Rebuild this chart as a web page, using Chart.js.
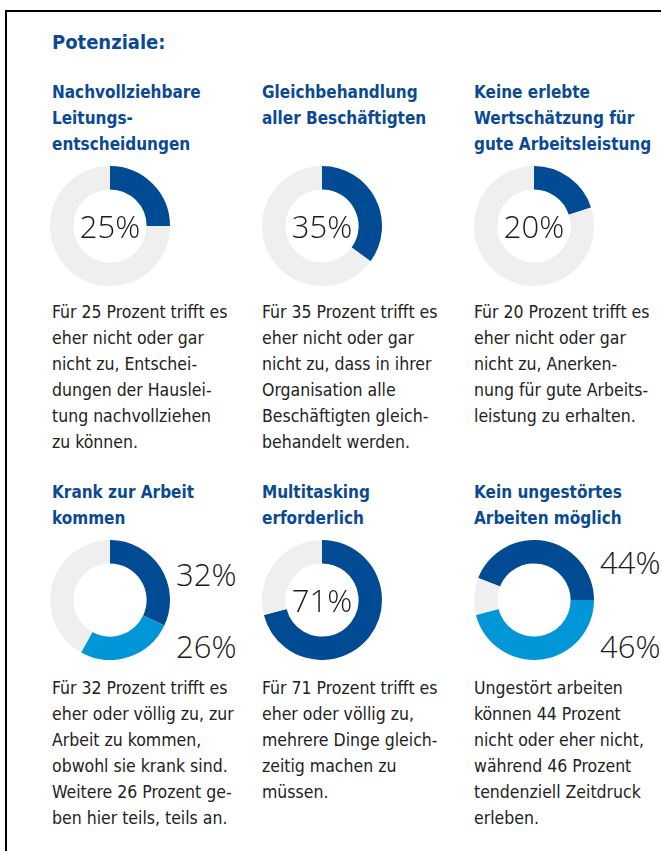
<!DOCTYPE html>
<html lang="de">
<head>
<meta charset="utf-8">
<script src="https://cdn.jsdelivr.net/npm/chart.js@4.4.1/dist/chart.umd.min.js"></script>
<style>
  html, body { margin: 0; padding: 0; background: #fff; }
  body { width: 661px; height: 851px; position: relative; overflow: hidden; }
  .frame {
    position: absolute; left: 5px; top: 10px; width: 700px; height: 900px;
    border-left: 2px solid #000; border-top: 2px solid #000;
  }
  .head, .title, .desc, .pct, .side { position: absolute; margin: 0; white-space: nowrap; }
  .head {
    left: 52px; top: 30px; line-height: 26px;
    font: bold 20px "DejaVu Sans Condensed", sans-serif;
    color: #0b4a93;
  }
  .title {
    font: bold 17px "DejaVu Sans Condensed", sans-serif;
    line-height: 26px; color: #0b4a93;
  }
  .desc {
    font: 17.5px "DejaVu Sans Condensed", sans-serif;
    line-height: 26px; color: #222;
  }
  .donut { position: absolute; width: 120px; height: 120px; }
  .donut canvas { position: absolute; left: 0; top: 0; }
  .pct {
    left: 0; top: 0; width: 120px; height: 120px;
    display: flex; align-items: center; justify-content: center;
  }
  .pct, .side {
    font: 300 31px "Open Sans", sans-serif; color: #1a1a1a;
  }
  .side { height: 40px; line-height: 40px; }
</style>
</head>
<body>
<div class="frame"></div>
<div class="head">Potenziale:</div>
<div id="panels"></div>

<script>
// Daten
const panelTitles = [
  ['Nachvollziehbare', 'Leitungs-', 'entscheidungen'],
  ['Gleichbehandlung', 'aller Beschäftigten'],
  ['Keine erlebte', 'Wertschätzung für', 'gute Arbeitsleistung'],
  ['Krank zur Arbeit', 'kommen'],
  ['Multitasking', 'erforderlich'],
  ['Kein ungestörtes', 'Arbeiten möglich']
];
const panelTexts = [
  ['Für 25 Prozent trifft es', 'eher nicht oder gar', 'nicht zu, Entschei-', 'dungen der Hauslei-', 'tung nachvollziehen', 'zu können.'],
  ['Für 35 Prozent trifft es', 'eher nicht oder gar', 'nicht zu, dass in ihrer', 'Organisation alle', 'Beschäftigten gleich-', 'behandelt werden.'],
  ['Für 20 Prozent trifft es', 'eher nicht oder gar', 'nicht zu, Anerken-', 'nung für gute Arbeits-', 'leistung zu erhalten.'],
  ['Für 32 Prozent trifft es', 'eher oder völlig zu, zur', 'Arbeit zu kommen,', 'obwohl sie krank sind.', 'Weitere 26 Prozent ge-', 'ben hier teils, teils an.'],
  ['Für 71 Prozent trifft es', 'eher oder völlig zu,', 'mehrere Dinge gleich-', 'zeitig machen zu', 'müssen.'],
  ['Ungestört arbeiten', 'können 44 Prozent', 'nicht oder eher nicht,', 'während 46 Prozent', 'tendenziell Zeitdruck', 'erleben.']
];
const darkShare = [25, 35, 20, 32, 71, 44];
const lightShare = [0, 0, 0, 26, 0, 46];
const segmentNames = ['Anteil', 'teils/teils', 'Rest'];

const colors = ['#004b93', '#0096d8', '#efefef'];

// Layout
const colX = [52, 262, 474];
const donutCX = [110, 322, 534];
const rows = [
  { titleTop: 79, donutCY: 226, descTop: 299 },
  { titleTop: 479, donutCY: 600, descTop: 675 }
];

const container = document.getElementById('panels');

panelTitles.forEach((title, i) => {
  const col = i % 3;
  const row = rows[Math.floor(i / 3)];

  const t = document.createElement('div');
  t.className = 'title';
  t.style.left = colX[col] + 'px';
  t.style.top = row.titleTop + 'px';
  t.innerHTML = title.join('<br>');
  container.appendChild(t);

  const d = document.createElement('div');
  d.className = 'desc';
  d.style.left = colX[col] + 'px';
  d.style.top = row.descTop + 'px';
  d.innerHTML = panelTexts[i].join('<br>');
  container.appendChild(d);

  const box = document.createElement('div');
  box.className = 'donut';
  box.style.left = (donutCX[col] - 60) + 'px';
  box.style.top = (row.donutCY - 60) + 'px';
  const cv = document.createElement('canvas');
  cv.width = 120;
  cv.height = 120;
  box.appendChild(cv);
  container.appendChild(box);

  const dark = darkShare[i];
  const light = lightShare[i];
  const rest = 100 - dark - light;

  // Trennung dunkel/hell liegt beim letzten Ring auf 3 Uhr, sonst Start oben
  const rotation = (i === 5) ? 90 - dark * 3.6 : 0;

  new Chart(cv.getContext('2d'), {
    type: 'doughnut',
    data: {
      labels: segmentNames,
      datasets: [{
        data: [dark, light, rest],
        backgroundColor: colors,
        borderWidth: 0
      }]
    },
    options: {
      responsive: false,
      animation: false,
      cutout: '61%',
      rotation: rotation,
      plugins: { legend: { display: false }, tooltip: { enabled: false } },
      events: []
    }
  });

  if (light === 0) {
    const p = document.createElement('div');
    p.className = 'pct';
    p.textContent = dark + '%';
    box.appendChild(p);
  } else {
    const sideX = donutCX[col] + 66;
    const top = document.createElement('div');
    top.className = 'side';
    top.style.left = sideX + 'px';
    top.style.top = (row.donutCY - (i === 5 ? 38 : 26) - 20) + 'px';
    top.textContent = dark + '%';
    container.appendChild(top);

    const bot = document.createElement('div');
    bot.className = 'side';
    bot.style.left = sideX + 'px';
    bot.style.top = (row.donutCY + 46 - 20) + 'px';
    bot.textContent = light + '%';
    container.appendChild(bot);
  }
});
</script>
</body>
</html>
